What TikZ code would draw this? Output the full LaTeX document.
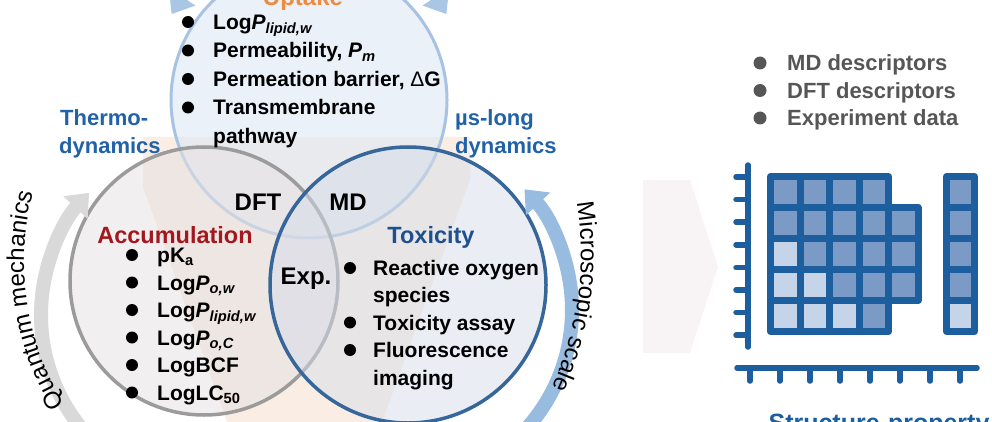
\documentclass[tikz,border=0pt]{standalone}
\usepackage{fontspec}
\setmainfont{Liberation Sans}
\usetikzlibrary{arrows.meta,decorations.text}

\definecolor{upline}{HTML}{A7C3E1}
\definecolor{upfill}{HTML}{DCE8F5}
\definecolor{acline}{HTML}{9B9B9B}
\definecolor{acfill}{HTML}{E6E1E3}
\definecolor{txline}{HTML}{37679A}
\definecolor{txfill}{HTML}{D5DCE8}
\definecolor{peach}{HTML}{F4D9C4}
\definecolor{qgrey}{HTML}{D9D9D9}
\definecolor{mblue}{HTML}{98BBE0}
\definecolor{tblue}{HTML}{A9C6E5}
\definecolor{accred}{HTML}{A3181E}
\definecolor{toxblue}{HTML}{1E4F8E}
\definecolor{thermo}{HTML}{2061A8}
\definecolor{uporange}{HTML}{EE8B3D}
\definecolor{mline}{HTML}{1D5E9E}
\definecolor{cm}{HTML}{7B9BC6}
\definecolor{cl}{HTML}{C5D4E9}
\definecolor{dgrey}{HTML}{565656}
\definecolor{chev}{HTML}{F8F4F5}

\begin{document}
\begin{tikzpicture}[x=1pt,y=1pt,line join=round,line cap=round]
\tikzset{every node/.style={inner sep=0pt},
  item/.style={anchor=base west,font=\bfseries\fontsize{21}{24}\selectfont},
  gitem/.style={anchor=base west,text=dgrey,font=\bfseries\fontsize{22}{26}\selectfont},
  lbl/.style={anchor=base,font=\bfseries\fontsize{24}{28}\selectfont},
  side/.style={anchor=base west,text=thermo,font=\bfseries\fontsize{22}{26}\selectfont},
  cellbox/.style={draw=mline,line width=7},
  axis/.style={mline,line width=5.5},
  bigarrow/.style={line width=14,-{Triangle[width=32pt,length=20pt]}}}
\useasboundingbox (0,-422) rectangle (992,0);
\clip (0,-422) rectangle (992,0);

% background
\fill[peach,opacity=.45] (143,-137) -- (470,-137) -- (470,-180) -- (382,-422) -- (227,-422) -- (143,-187) -- cycle;
\fill[chev] (643,-180) -- (690,-180) -- (718,-267) -- (690,-353) -- (643,-353) -- cycle;

% venn
\draw[upline,line width=3,fill=upfill,fill opacity=.6] (309,-100) circle[radius=138];
\draw[acline,line width=3.5,fill=acfill,fill opacity=.55] (204,-281) circle[radius=134];
\draw[txline,line width=3.5,fill=txfill,fill opacity=.5] (408,-285) circle[radius=138];

% cycle arrows
\coordinate (qa) at (220,-315);
\coordinate (ma) at (395,-310);
\coordinate (ua) at (309,-100);
\coordinate (qt) at (293,-262);
\coordinate (mt) at (265,-255);
\draw[qgrey,bigarrow] ([shift={(232:179)}]qa) arc[start angle=232,end angle=137,radius=179];
\draw[mblue,bigarrow] ([shift={(-52:177)}]ma) arc[start angle=-52,end angle=43,radius=177];
\draw[tblue,line width=13,{Triangle[width=30pt,length=20pt]}-{Triangle[width=30pt,length=20pt]}]
  ([shift={(148:162)}]ua) arc[start angle=148,end angle=32,radius=162];
\path[decorate,decoration={text along path,text align=center,
  text={|\fontsize{24}{24}\selectfont|Quantum mechanics}}]
  ([shift={(215:269)}]qt) arc[start angle=215,end angle=162,radius=269];
\path[decorate,decoration={text along path,text align=center,
  text={|\fontsize{24}{24}\selectfont|Microscopic scale}}]
  ([shift={(12:316)}]mt) arc[start angle=12,end angle=-27.4,radius=316];

% labels
\node[lbl,text=uporange] (uptake) at (303,-6) {Uptake};
\node[lbl,text=accred,font=\bfseries\fontsize{23.5}{28}\selectfont] (accum) at (175,-243) {Accumulation};
\node[lbl,text=toxblue,font=\bfseries\fontsize{23.5}{28}\selectfont] (toxic) at (431,-243) {Toxicity};
\node[lbl] (dft) at (258,-210) {DFT};
\node[lbl] (md) at (348,-210) {MD};
\node[lbl] (exp) at (306,-284) {Exp.};
\node[side] (thermo1) at (60,-126) {Thermo-};
\node[side] (thermo2) at (59,-154) {dynamics};
\node[side] (mus1) at (455,-126) {µs-long};
\node[side] (mus2) at (455,-154) {dynamics};

% uptake list
\foreach \t [count=\i] in {{Log\textit{P}\textsubscript{\textit{lipid,w}}},
    {Permeability, \textit{P}\textsubscript{\textit{m}}},
    {Permeation barrier, {\mdseries Δ}G},{Transmembrane}}{
  \fill (188,{-22-28.5*(\i-1)}) circle[radius=6];
  \node[item] (up\i) at (213,{-29.5-28.5*(\i-1)}) {\t};
}
\node[item] (up5) at (213,-143.5) {pathway};

% accumulation list
\foreach \t [count=\i] in {{pK\textsubscript{a}},
    {Log\textit{P}\textsubscript{\textit{o,w}}},
    {Log\textit{P}\textsubscript{\textit{lipid,w}}},
    {Log\textit{P}\textsubscript{\textit{o,C}}},
    {LogBCF},{LogLC\textsubscript{50}}}{
  \fill (132,{-255-27.5*(\i-1)}) circle[radius=6];
  \node[item] (ac\i) at (157,{-262.5-27.5*(\i-1)}) {\t};
}

% toxicity list
\foreach \t/\y [count=\i] in {Reactive oxygen/275.5,Toxicity assay/330,Fluorescence/357.5}{
  \fill (350,{-\y+7.5}) circle[radius=6];
  \node[item] (tx\i) at (373,-\y) {\t};
}
\node[item] (tx4) at (373,-302.5) {species};
\node[item] (tx5) at (373,-385) {imaging};

% descriptors
\foreach \t [count=\i] in {MD descriptors,DFT descriptors,Experiment data}{
  \fill[dgrey] (760,{-63-27.5*(\i-1)}) circle[radius=6.5];
  \node[gitem] (ds\i) at (787,{-71-27.5*(\i-1)}) {\t};
}

% matrix
\foreach \r/\c/\f in {1/1/cm,1/2/cm,1/3/cm,1/4/cm,
    2/1/cm,2/2/cm,2/3/cm,2/4/cm,2/5/cm,
    3/1/cl,3/2/cm,3/3/cm,3/4/cm,3/5/cm,
    4/1/cl,4/2/cl,4/3/cm,4/4/cm,4/5/cm,
    5/1/cl,5/2/cl,5/3/cl,5/4/cm}
  \draw[cellbox,fill=\f] ({770.5+29.5*(\c-1)},{-176.5-31*(\r-1)}) rectangle ++(29.5,-31);
\foreach \r/\f in {1/cm,2/cm,3/cm,4/cm,5/cl}
  \draw[cellbox,fill=\f] (946.5,{-176.5-31*(\r-1)}) rectangle ++(28,-31);
\draw[axis] (748,-165) -- (748,-347);
\foreach \k in {0,...,7} \draw[axis] (736,{-177-22.6*\k}) -- (748,{-177-22.6*\k});
\draw[axis] (737,-368) -- (977,-368);
\foreach \k in {0,...,7} \draw[axis] ({750+30*\k},-368) -- ({750+30*\k},-381);
\node[lbl,text=mline,font=\bfseries\fontsize{25}{30}\selectfont] (sp) at (879,-431) {Structure-property};
\end{tikzpicture}
\end{document}
